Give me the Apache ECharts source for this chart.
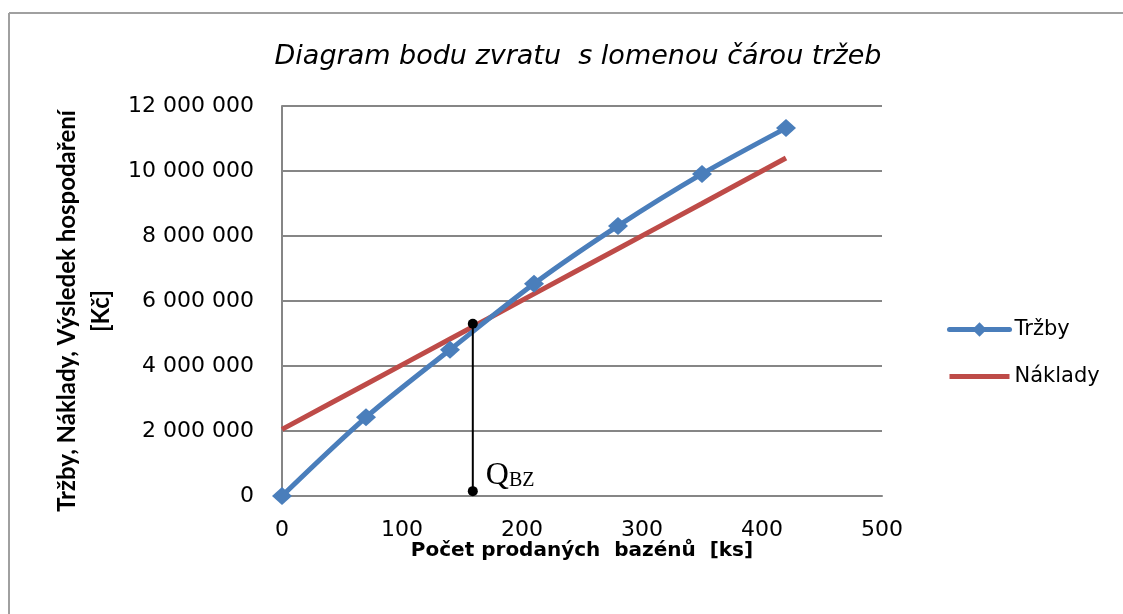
<!DOCTYPE html>
<html>
<head>
<meta charset="utf-8">
<title>Diagram bodu zvratu</title>
<script src="https://cdn.jsdelivr.net/npm/echarts@6/dist/echarts.min.js"></script>
<style>
  html, body { margin: 0; padding: 0; background: #fff; }
  #chart { width: 1123px; height: 614px; }
</style>
</head>
<body>
<div id="chart"></div>
<script>
// data
const quantities = [0, 70, 140, 210, 280, 350, 420];
const trzby = [0, 2420000, 4500000, 6530000, 8310000, 9910000, 11320000];
const naklady = [2050000, 3440000, 4830000, 6220000, 7610000, 9000000, 10400000];
// break-even marker (Q_BZ)
const bzQuantity = 159;
const bzValues = [150000, 5300000];

const xTicks = { min: 0, max: 500, interval: 100 };
const yTicks = { min: 0, max: 12000000, interval: 2000000 };

const labelFont = 'DejaVu Sans';

function withSpaces(v) {
  return String(v).replace(/\B(?=(\d{3})+(?!\d))/g, ' ');
}

const chart = echarts.init(document.getElementById('chart'));

const option = {
  backgroundColor: '#fff',
  animation: false,
  title: {
    text: 'Diagram bodu zvratu  s lomenou čárou tržeb',
    left: 573,
    top: 38,
    textAlign: 'center',
    textStyle: {
      fontFamily: labelFont,
      fontStyle: 'italic',
      fontWeight: 'normal',
      fontSize: 27,
      color: '#000'
    }
  },
  legend: {
    // Náklady has no markers, so its icon is a flat bar hidden under the line
    data: [{ name: 'Tržby' }, { name: 'Náklady', icon: 'path://M0,0H60V5H0Z' }],
    orient: 'vertical',
    left: 942,
    top: 314,
    itemWidth: 60,
    itemHeight: 18,
    itemGap: 26,
    lineStyle: { width: 5, cap: 'round' },
    textStyle: { fontFamily: labelFont, fontSize: 21, color: '#000' }
  },
  grid: { left: 282, right: 241, top: 106, bottom: 118 },
  xAxis: {
    type: 'value',
    min: xTicks.min,
    max: xTicks.max,
    interval: xTicks.interval,
    name: 'Počet prodaných  bazénů  [ks]',
    nameLocation: 'middle',
    nameGap: 45,
    nameMoveOverlap: false,
    nameTextStyle: { fontFamily: labelFont, fontWeight: 'bold', fontSize: 20, color: '#000' },
    axisLine: { show: true, lineStyle: { color: '#868686', width: 2 } },
    axisTick: { show: false },
    splitLine: { show: false },
    axisLabel: { margin: 23, fontFamily: labelFont, fontSize: 22, color: '#000' }
  },
  yAxis: {
    type: 'value',
    min: yTicks.min,
    max: yTicks.max,
    interval: yTicks.interval,
    axisLine: { show: true, lineStyle: { color: '#868686', width: 2 } },
    axisTick: { show: false },
    splitLine: { show: true, lineStyle: { color: '#868686', width: 2 } },
    axisLabel: {
      margin: 28,
      fontFamily: labelFont,
      fontSize: 22,
      color: '#000',
      formatter: withSpaces
    }
  },
  graphic: [
    // outer chart frame (only the left and top edges are visible)
    { type: 'line', shape: { x1: 9, y1: 13, x2: 9, y2: 614 }, style: { stroke: '#a0a0a0', lineWidth: 2 } },
    { type: 'line', shape: { x1: 9, y1: 13, x2: 1123, y2: 13 }, style: { stroke: '#a0a0a0', lineWidth: 2 } },
    {
      type: 'text',
      x: 50,
      y: 311,
      rotation: Math.PI / 2,
      style: {
        text: 'Tržby, Náklady, Výsledek hospodaření\n[Kč]',
        fontFamily: 'Lato',
        fontWeight: 'bold',
        fontSize: 24,
        lineHeight: 34,
        fill: '#000',
        align: 'center',
        verticalAlign: 'top'
      }
    }
  ],
  series: [
    {
      name: 'Tržby',
      type: 'line',
      smooth: 0.3,
      data: quantities.map((q, i) => [q, trzby[i]]),
      symbol: 'diamond',
      symbolSize: [20, 18],
      z: 3,
      lineStyle: { color: '#4a7ebb', width: 5 },
      itemStyle: { color: '#4a7ebb' }
    },
    {
      name: 'Náklady',
      type: 'line',
      smooth: 0.3,
      data: quantities.map((q, i) => [q, naklady[i]]),
      symbol: 'none',
      z: 2,
      lineStyle: { color: '#be4b48', width: 5 },
      itemStyle: { color: '#be4b48' }
    },
    {
      name: 'QBZ',
      type: 'line',
      data: bzValues.map(v => [bzQuantity, v]),
      symbol: 'circle',
      symbolSize: 10,
      z: 4,
      lineStyle: { color: '#000', width: 2 },
      itemStyle: { color: '#000' },
      label: {
        show: true,
        formatter: p => (p.dataIndex === 0 ? '{q|Q}{bz|BZ}' : ''),
        position: 'right',
        distance: 8,
        offset: [0, -16],
        rich: {
          q: { fontFamily: 'Liberation Serif', fontSize: 32, color: '#000', verticalAlign: 'bottom', lineHeight: 32 },
          bz: { fontFamily: 'Liberation Serif', fontSize: 20, color: '#000', verticalAlign: 'bottom', lineHeight: 27 }
        }
      }
    }
  ]
};

chart.setOption(option);
</script>
</body>
</html>
